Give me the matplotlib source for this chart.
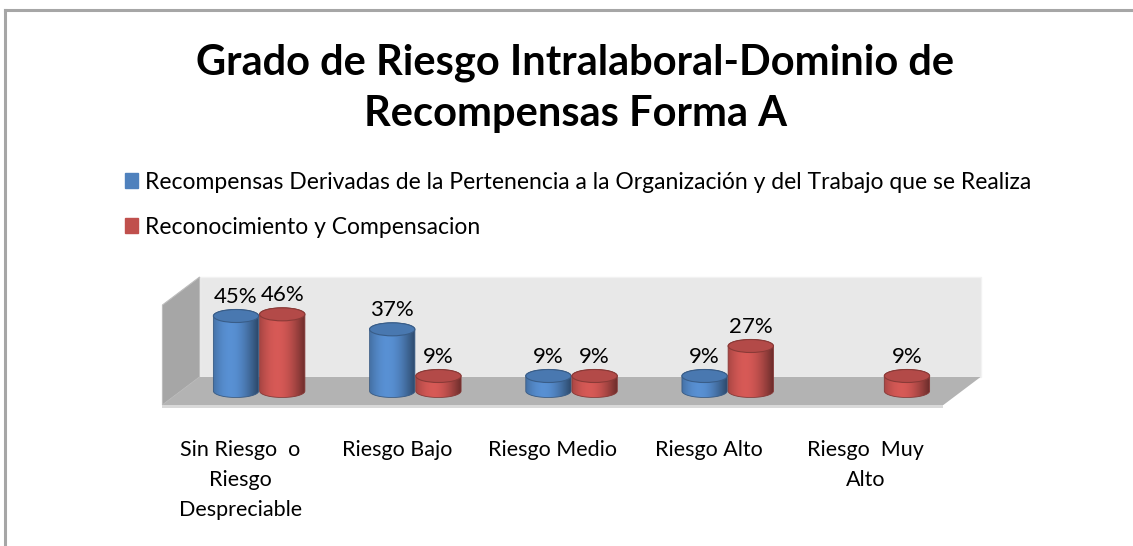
import matplotlib
matplotlib.use("Agg")
import matplotlib.pyplot as plt
import numpy as np
from matplotlib.patches import Polygon, Ellipse, Patch
from matplotlib.lines import Line2D

plt.rcParams['font.family'] = ['Lato', 'DejaVu Sans']

categories = ["Sin Riesgo  o\nRiesgo\nDespreciable", "Riesgo Bajo", "Riesgo Medio",
              "Riesgo Alto", "Riesgo  Muy\nAlto"]
series_names = ["Recompensas Derivadas de la Pertenencia a la Organización y del Trabajo que se Realiza",
                "Reconocimiento y Compensacion"]
blue_vals = [45, 37, 9, 9, 0]
red_vals = [46, 9, 9, 27, 9]
colors = ["#4f81bd", "#c0504d"]
y_max = 60

title = "Grado de Riesgo Intralaboral-Dominio de\nRecompensas Forma A"

W, H = 1133, 546
fig = plt.figure(figsize=(W / 100, H / 100), dpi=100)
ax = fig.add_axes([142 / W, (H - 411) / H, (1001 - 142) / W, (411 - 271) / H])
ax.set_xlim(-0.75, 4.75)
ax.set_ylim(-12, 72)
ax.axis('off')

ddx = 0.119   # half depth, category units
ddy = 8.4     # half depth, % units
bw = 0.29     # cylinder width
ell = 7.8     # ellipse height in %

# walls and floor
x0, x1 = -0.5, 4.5
ax.add_patch(Polygon([(x0 + ddx, ddy), (x1 + ddx, ddy), (x1 + ddx, y_max + ddy), (x0 + ddx, y_max + ddy)],
                     closed=True, fc="#e8e8e8", ec="#f2f2f2", lw=1.0, zorder=1))
ax.add_patch(Polygon([(x0 - ddx, -ddy), (x0 + ddx, ddy), (x0 + ddx, y_max + ddy), (x0 - ddx, y_max - ddy)],
                     closed=True, fc="#a6a6a6", ec="#bdbdbd", lw=0.8, zorder=1))
ax.add_patch(Polygon([(x0 - ddx, -ddy), (x1 - ddx, -ddy), (x1 + ddx, ddy), (x0 + ddx, ddy)],
                     closed=True, fc="#b3b3b3", ec="none", zorder=2))
ax.add_patch(Polygon([(x0 - ddx, -ddy), (x1 - ddx, -ddy), (x1 - ddx, -ddy - 1.5), (x0 - ddx, -ddy - 1.5)],
                     closed=True, fc="#d9d9d9", ec="none", zorder=2))


def cylinder(xc, h, col, z):
    if h <= 0:
        return
    rgb = np.array(matplotlib.colors.to_rgb(col))
    t = np.linspace(-1, 1, 80)
    shade = 0.62 + 0.5 * np.cos((t + 0.25) * np.pi / 2.3)
    img = np.clip(rgb[None, None, :] * shade[None, :, None], 0, 1)
    th_b = np.linspace(np.pi, 2 * np.pi, 60)
    th_t = np.linspace(0, np.pi, 60)
    pts = [(xc - bw / 2, h)]
    pts += [(xc + bw / 2 * np.cos(a), ell / 2 * np.sin(a)) for a in th_b]
    pts += [(xc + bw / 2 * np.cos(a), h + ell / 2 * np.sin(a)) for a in th_t]
    poly = Polygon(pts, closed=True, fc="none", ec="none", transform=ax.transData)
    ax.add_patch(poly)
    im = ax.imshow(img, extent=(xc - bw / 2, xc + bw / 2, -ell / 2, h + ell / 2),
                   aspect='auto', interpolation='bilinear', zorder=z)
    im.set_clip_path(poly)
    ax.add_patch(Polygon(pts, closed=True, fc="none", ec=rgb * 0.7, lw=0.6, zorder=z + 0.1))
    top = np.clip(rgb * 0.93, 0, 1)
    ax.add_patch(Ellipse((xc, h), bw, ell, fc=top, ec=rgb * 0.72, lw=0.8, zorder=z + 0.2))


for i in range(len(categories)):
    for k, vals in enumerate([blue_vals, red_vals]):
        xc = i + (k - 0.5) * bw * 1.02
        cylinder(xc, vals[i], colors[k], 3 + i + k * 0.5)
        if vals[i] > 0:
            ax.annotate(f"{vals[i]}%", (xc, vals[i]), xytext=(0, 14), textcoords='offset points',
                        ha='center', va='center', fontsize=16, color="#000000", zorder=20,
                        annotation_clip=False)
    ax.text(i - ddx, -29.5, categories[i], ha='center', va='top', fontsize=15.5,
            linespacing=1.62, clip_on=False)

ax.set_xlim(-0.75, 4.75)
ax.set_ylim(-12, 72)

fig.text(575 / W, 1 - 88 / H, title, ha='center', va='center', fontsize=30, fontweight='bold',
         linespacing=1.42)

handles = [Patch(fc=c, ec=c) for c in colors]
fig.legend(handles, series_names, loc='upper left', bbox_to_anchor=(104 / W, 1 - 151 / H),
           frameon=False, fontsize=16.5, handlelength=0.6, handleheight=0.6, handletextpad=0.3,
           labelspacing=1.05)

# chart border
fig.add_artist(Line2D([5 / W, 5 / W], [0, 1 - 10 / H], color="#a6a6a6", lw=2.2))
fig.add_artist(Line2D([5 / W, 1], [1 - 10 / H, 1 - 10 / H], color="#a6a6a6", lw=2.2))

fig.savefig("out.png", dpi=100)
